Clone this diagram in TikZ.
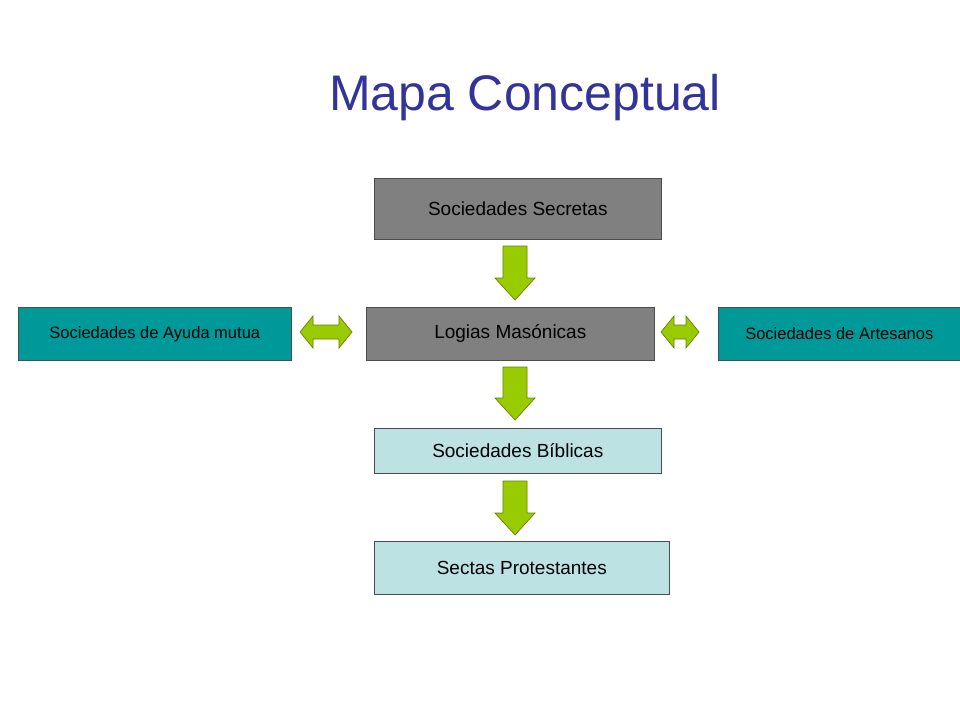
\documentclass[tikz,border=0pt]{standalone}
\usepackage{fontspec}
\setmainfont{Liberation Sans}
\begin{document}
\begin{tikzpicture}[x=1pt,y=-1pt,
  box/.style={draw=black!70,line width=0.6pt,anchor=north west,inner sep=0pt,font=\fontsize{19}{22}\selectfont},
  dark/.style={box,fill=black!50},
  light/.style={box,fill={rgb,255:red,188;green,226;blue,228}},
  teal/.style={box,fill={rgb,255:red,0;green,153;blue,153},font=\fontsize{16.5}{20}\selectfont},
  garrow/.style={draw={rgb,255:red,100;green,130;blue,0},fill={rgb,255:red,153;green,204;blue,0},line width=0.7pt,line join=miter}]
\useasboundingbox (0,0) rectangle (960,720);
\node[font=\fontsize{50}{60}\selectfont,text={rgb,255:red,51;green,51;blue,153}] (title) at (525,98) {Mapa Conceptual};
\node[dark,minimum width=287,minimum height=61] (sec) at (374,178) {};
\node at (sec.center) {\fontsize{19}{22}\selectfont Sociedades Secretas};
\node[dark,minimum width=288,minimum height=53] (log) at (366,307) {};
\node at (log.center) {\fontsize{19}{22}\selectfont Logias Masónicas};
\node[light,minimum width=287,minimum height=45] (bib) at (374,428) {};
\node at (bib.center) {\fontsize{19}{22}\selectfont Sociedades Bíblicas};
\node[light,minimum width=295,minimum height=53] (pro) at (374,541) {};
\node at (pro.center) {\fontsize{19}{22}\selectfont Sectas Protestantes};
\node[teal,minimum width=273,minimum height=53] (ayu) at (18,307) {};
\node at (ayu.center) {\fontsize{16.5}{20}\selectfont Sociedades de Ayuda mutua};
\node[teal,minimum width=250,minimum height=53] (art) at (718,307) {};
\node at ([xshift=-4pt]art.center) {\fontsize{16.5}{20}\selectfont Sociedades de Artesanos};
% down arrows
\foreach \t/\b in {246/300, 367/420, 481/535}{
  \draw[garrow] (503,\t) -- (527,\t) -- (527,\b-22) -- (535,\b-22) -- (515,\b) -- (495,\b-22) -- (503,\b-22) -- cycle;
}
% double arrows
\foreach \l/\r in {300/352, 661/699}{
  \draw[garrow] (\l,332) -- (\l+13,316) -- (\l+13,325) -- (\r-13,325) -- (\r-13,316) -- (\r,332) -- (\r-13,348) -- (\r-13,339) -- (\l+13,339) -- (\l+13,348) -- cycle;
}
\end{tikzpicture}
\end{document}
